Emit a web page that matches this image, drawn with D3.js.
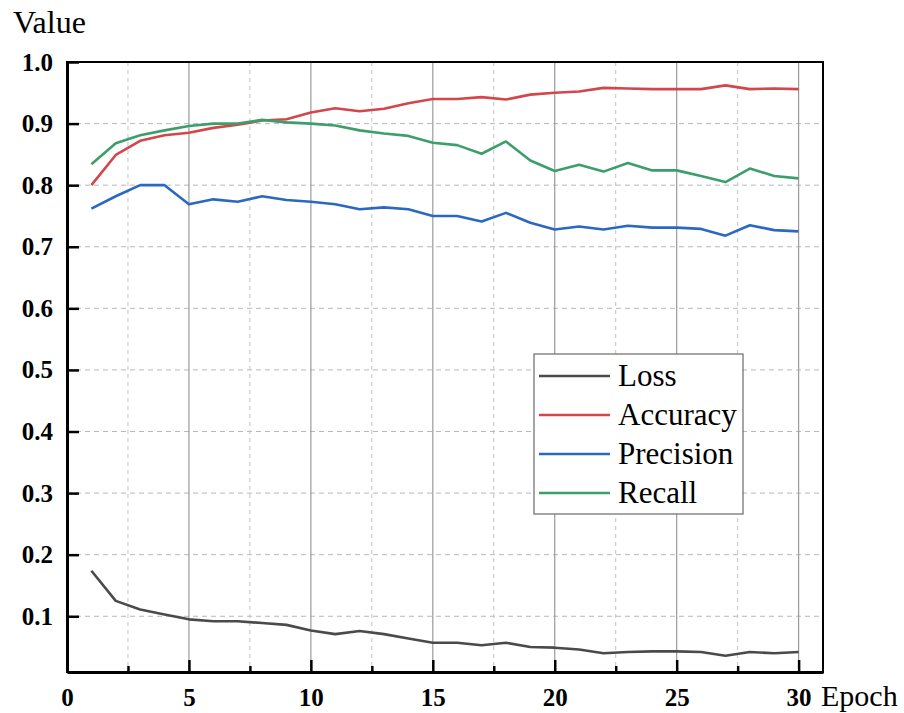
<!DOCTYPE html>
<html>
<head>
<meta charset="utf-8">
<script src="https://cdn.jsdelivr.net/npm/d3@7"></script>
<style>
  body { margin: 0; background: #fff; }
</style>
</head>
<body>
<svg id="chart" width="904" height="713"></svg>
<script>
// values
const epochs = d3.range(1, 31);
const loss = [0.174, 0.125, 0.111, 0.103, 0.095, 0.092, 0.092, 0.089, 0.086, 0.077,
              0.071, 0.076, 0.071, 0.064, 0.057, 0.057, 0.053, 0.057, 0.050, 0.049,
              0.046, 0.040, 0.042, 0.043, 0.043, 0.042, 0.036, 0.042, 0.040, 0.042];
const accuracy = [0.800, 0.849, 0.872, 0.881, 0.885, 0.893, 0.898, 0.905, 0.907, 0.918,
                  0.925, 0.920, 0.924, 0.933, 0.940, 0.940, 0.943, 0.939, 0.947, 0.950,
                  0.952, 0.958, 0.957, 0.956, 0.956, 0.956, 0.962, 0.956, 0.957, 0.956];
const precision = [0.762, 0.782, 0.800, 0.800, 0.769, 0.777, 0.773, 0.782, 0.776, 0.773,
                   0.769, 0.761, 0.764, 0.761, 0.750, 0.750, 0.741, 0.755, 0.739, 0.728,
                   0.733, 0.728, 0.734, 0.731, 0.731, 0.729, 0.718, 0.735, 0.727, 0.725];
const recall = [0.834, 0.868, 0.881, 0.889, 0.896, 0.900, 0.900, 0.906, 0.902, 0.900,
                0.897, 0.889, 0.884, 0.880, 0.869, 0.865, 0.851, 0.871, 0.840, 0.823,
                0.833, 0.822, 0.836, 0.824, 0.824, 0.815, 0.805, 0.827, 0.815, 0.811];
const seriesNames = ["Loss", "Accuracy", "Precision", "Recall"];
const seriesColors = ["#4a4a4a", "#d2464c", "#2a68c2", "#3c9f6b"];
const yTicks = [0.1, 0.2, 0.3, 0.4, 0.5, 0.6, 0.7, 0.8, 0.9, 1.0];
const xTicks = [0, 5, 10, 15, 20, 25, 30];
const xMinor = [2.5, 7.5, 12.5, 17.5, 22.5, 27.5];

const series = [loss, accuracy, precision, recall];
const serif = '"Liberation Serif", "Times New Roman", serif';

const svg = d3.select("#chart");
const plotLeft = 67, plotRight = 823, plotTop = 62, plotBottom = 672;

const x = d3.scaleLinear().domain([0, 31]).range([plotLeft, plotRight]);
const y = d3.scaleLinear().domain([0.0095, 1.0]).range([plotBottom, plotTop]);

// grid
svg.append("g")
  .selectAll("line")
  .data(yTicks.slice(0, -1))
  .enter().append("line")
    .attr("x1", plotLeft).attr("x2", plotRight)
    .attr("y1", d => y(d)).attr("y2", d => y(d))
    .attr("stroke", "#b8b8b8")
    .attr("stroke-dasharray", "5,4");

svg.append("g")
  .selectAll("line")
  .data(xMinor)
  .enter().append("line")
    .attr("x1", d => x(d)).attr("x2", d => x(d))
    .attr("y1", plotTop).attr("y2", plotBottom)
    .attr("stroke", "#c4c4c4")
    .attr("stroke-dasharray", "4,4");

svg.append("g")
  .selectAll("line")
  .data(xTicks.slice(1))
  .enter().append("line")
    .attr("x1", d => x(d)).attr("x2", d => x(d))
    .attr("y1", plotTop).attr("y2", plotBottom)
    .attr("stroke", "#9a9a9a")
    .attr("stroke-width", 1.2);

// lines
const line = d3.line()
  .x((d, i) => x(epochs[i]))
  .y(d => y(d));

series.forEach(function(s, i){
  svg.append("path")
    .datum(s)
    .attr("d", line)
    .attr("fill", "none")
    .attr("stroke", seriesColors[i])
    .attr("stroke-width", 2.6)
    .attr("stroke-linejoin", "round");
});

// frame
svg.append("rect")
  .attr("x", plotLeft).attr("y", plotTop)
  .attr("width", plotRight - plotLeft).attr("height", plotBottom - plotTop)
  .attr("fill", "none")
  .attr("stroke", "#000")
  .attr("stroke-width", 2);

// axes, ticks pointing inward
const yAxis = svg.append("g")
  .attr("transform", `translate(${plotLeft},0)`)
  .call(d3.axisLeft(y).tickValues(yTicks).tickFormat(d3.format(".1f")).tickSizeInner(-12).tickSizeOuter(0).tickPadding(14))
  .attr("font-family", serif)
  .attr("font-size", 25)
  .attr("font-weight", "bold");
yAxis.select(".domain").attr("stroke-width", 3);
yAxis.selectAll(".tick line").attr("stroke-width", 2.5);
yAxis.selectAll("text").attr("fill", "#000");

const xAxis = svg.append("g")
  .attr("transform", `translate(0,${plotBottom})`)
  .call(d3.axisBottom(x).tickValues(xTicks).tickSizeInner(-12).tickSizeOuter(0).tickPadding(16))
  .attr("font-family", serif)
  .attr("font-size", 25)
  .attr("font-weight", "bold");
xAxis.select(".domain").attr("stroke-width", 3);
xAxis.selectAll(".tick line").attr("stroke-width", 2.5);
xAxis.selectAll("text").attr("fill", "#000");

svg.append("g")
  .attr("transform", `translate(0,${plotBottom})`)
  .call(d3.axisBottom(x).tickValues(xMinor).tickSizeInner(-6).tickSizeOuter(0).tickFormat(""))
  .call(g => g.select(".domain").remove())
  .selectAll(".tick line").attr("stroke-width", 2.5);

// axis titles
svg.append("text")
  .attr("x", 13).attr("y", 33)
  .attr("font-family", serif)
  .attr("font-size", 32)
  .text("Value");

svg.append("text")
  .attr("x", 821).attr("y", 706)
  .attr("font-family", serif)
  .attr("font-size", 30)
  .text("Epoch");

// legend
const legend = svg.append("g");
legend.append("rect")
  .attr("x", 534).attr("y", 354)
  .attr("width", 209).attr("height", 160)
  .attr("fill", "#fff")
  .attr("stroke", "#6a6a6a")
  .attr("stroke-width", 1.2);

const rows = legend.selectAll("g.row")
  .data(seriesNames)
  .enter().append("g")
    .attr("class", "row")
    .attr("transform", (d, i) => `translate(539,${376 + i * 39})`);

rows.append("line")
  .attr("x1", 0).attr("x2", 71)
  .attr("stroke", (d, i) => seriesColors[i])
  .attr("stroke-width", 2.6);

rows.append("text")
  .attr("x", 79).attr("y", 10)
  .attr("font-family", serif)
  .attr("font-size", 31)
  .text(d => d);
</script>
</body>
</html>
